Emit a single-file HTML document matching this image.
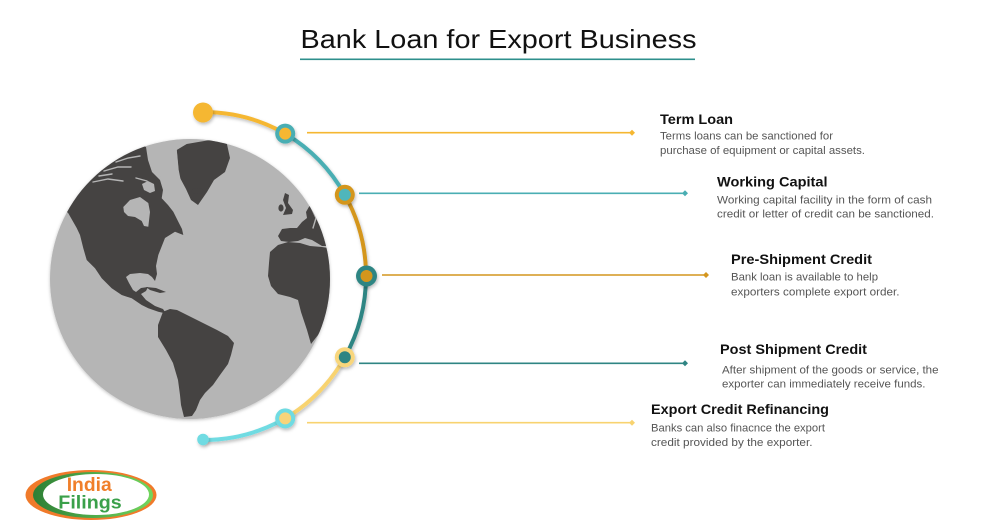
<!DOCTYPE html>
<html>
<head>
<meta charset="utf-8">
<style>
  html,body{margin:0;padding:0;background:#fff;}
  body{width:1000px;height:527px;overflow:hidden;}
  svg{display:block;}
  .h{font-family:"Liberation Sans",Arial,sans-serif;font-weight:bold;font-size:14px;fill:#111;}
  .d{font-family:"Liberation Sans",Arial,sans-serif;font-size:11px;fill:#555;}
</style>
</head>
<body>
<svg width="1000" height="527" viewBox="0 0 1000 527" xmlns="http://www.w3.org/2000/svg">
  <defs>
    <filter id="sh" x="-30%" y="-30%" width="160%" height="160%">
      <feDropShadow dx="1" dy="2" stdDeviation="1.5" flood-color="#000" flood-opacity="0.25"/>
    </filter>
    <filter id="gsh" x="-10%" y="-10%" width="120%" height="120%">
      <feDropShadow dx="0" dy="1" stdDeviation="1.5" flood-color="#000" flood-opacity="0.25"/>
    </filter>
    <clipPath id="globeclip"><circle cx="190" cy="279" r="140"/></clipPath>
    <linearGradient id="lg" x1="0" y1="0" x2="1" y2="0">
      <stop offset="0" stop-color="#2d7f35"/>
      <stop offset="1" stop-color="#72d65e"/>
    </linearGradient>
  </defs>

  <!-- Title -->
  <text x="300.5" y="48" font-family="Liberation Sans, Arial, sans-serif" font-size="26" fill="#111" textLength="396" lengthAdjust="spacingAndGlyphs">Bank Loan for Export Business</text>
  <rect x="300" y="58.5" width="395" height="1.6" fill="#2e8f8c"/>

  <!-- Globe -->
  <circle cx="190" cy="279" r="140" fill="#b5b5b5" filter="url(#gsh)"/>
  <g clip-path="url(#globeclip)" fill="#454342">
    <!-- North America -->
    <polygon points="55,200 68.3,213.3 76.7,228 80,235 83.3,248.3 86.7,260 95,268.3 101.7,278.3 111.7,288.3 121.7,295 131.7,298.3 141.7,305 148.3,308.3 158.3,311.7 166,313.5 163,309 155,306 146,300 141,294 146,291 148,287 141,288 136,292 133,290 129,283 126,277 130,274 140,273 148,274 152,277 155,281 157,274 156,266 158.3,255 165,238 175,231.7 183.3,235 182,229 178.3,221.7 173.3,211.7 168,205 161.7,198.3 163,190 160,180 152,172 148,160 146,147 120,138 60,160"/>
    <!-- Cuba -->
    <polygon points="146,287 156,288 166,292 160,293 150,290"/>
    <!-- Greenland -->
    <polygon points="176.7,150 186.7,144 210,140 226.7,143 230,158 225,172 214,180 207,192 198,205 191,200 186,189 179,176"/>
    <!-- Iceland -->
    <ellipse cx="197.5" cy="191" rx="6" ry="3"/>
    <!-- UK / Ireland -->
    <polygon points="285,193 289,195 288,203 293,210 292,214 283,215 286,208 283,200"/>
    <ellipse cx="281" cy="208" rx="2.6" ry="3.6"/>
    <!-- Europe -->
    <polygon points="297,228 302,222 307,218 306,212 310,205 305,197 309,193 316,197 323,204 331,211 345,215 345,246 322,246 312,240 305,238 298,241 289,242 281,241 278,236 282,229 290,228"/>
    <!-- Africa -->
    <polygon points="269,263 270,252 278,245 288,242 300,243 310,246 322,247 334,249 345,255 345,330 326,320 318,335 311,344 307,330 301,312 298,300 290,297 278,294 271,286 268,276"/>
    <!-- South America -->
    <polygon points="163,311.7 170,309 177,310 185,314 197,320 207,325 217,330 228,336 234,343 231,355 228,364 220,375 213,385 205,393 200,400 196,410 192,416 184,417 181,405 180,395 178,380 173,363 166,350 158,337 158,325"/>
  </g>
  <!-- Hudson bay + arctic channels -->
  <g clip-path="url(#globeclip)">
    <polygon fill="#b5b5b5" points="123.3,207 130,200 140,197 148.3,203 150,212 148.3,226.7 144,226 141.7,221 135,217 128,216 124,212"/>
    <polygon fill="#b5b5b5" points="142,184 148,181 154,184 155,191 150,193 144,190"/>
    <g stroke="#b5b5b5" stroke-width="1.4" fill="none" stroke-linecap="round">
      <polyline points="93,182 108,179 123,181"/>
      <polyline points="104,171 118,167 131,167"/>
      <polyline points="136,178 147,181"/>
      <polyline points="116,162 128,158 140,156"/>
      <polyline points="99,176 112,174"/>
      <polyline points="152,168 160,176"/>
      <polyline points="176,149 178,170 180,180"/>
      <polyline points="311,207 316,218 313,228"/>
    </g>
  </g>

  <!-- Connector lines -->
  <g stroke-width="1.6">
    <line x1="307" y1="132.7" x2="631" y2="132.7" stroke="#f5b731"/>
    <line x1="359" y1="193.3" x2="684" y2="193.3" stroke="#4aaeb3"/>
    <line x1="382" y1="275" x2="705" y2="275" stroke="#d4961e"/>
    <line x1="359" y1="363.3" x2="684" y2="363.3" stroke="#2f8583"/>
    <line x1="307" y1="422.7" x2="631" y2="422.7" stroke="#f8d370"/>
  </g>
  <g>
    <polygon points="629,132.7 632,129.7 635,132.7 632,135.7" fill="#f5b731"/>
    <polygon points="682,193.3 685,190.3 688,193.3 685,196.3" fill="#4aaeb3"/>
    <polygon points="703,275 706,272 709,275 706,278" fill="#d4961e"/>
    <polygon points="682,363.3 685,360.3 688,363.3 685,366.3" fill="#2f8583"/>
    <polygon points="629,422.7 632,419.7 635,422.7 632,425.7" fill="#f8d370"/>
  </g>

  <!-- Arc segments -->
  <g fill="none" stroke-width="4" stroke-linecap="round" filter="url(#sh)">
    <path d="M203,112 A166,166 0 0 1 285.2,133.6" stroke="#f5b731"/>
    <path d="M285.2,133.6 A166,166 0 0 1 344.8,194.8" stroke="#4aaeb3"/>
    <path d="M344.8,194.8 A166,166 0 0 1 366,276" stroke="#d4961e"/>
    <path d="M366,276 A166,166 0 0 1 344.8,357.2" stroke="#2f8583"/>
    <path d="M344.8,357.2 A166,166 0 0 1 285.2,418.4" stroke="#f8d370"/>
    <path d="M285.2,418.4 A166,166 0 0 1 203,440" stroke="#6fdbe2"/>
  </g>

  <!-- Nodes -->
  <g filter="url(#sh)">
    <circle cx="203" cy="112.5" r="10" fill="#f5b731"/>
    <circle cx="285.2" cy="133.6" r="10" fill="#4aaeb3"/>
    <circle cx="285.2" cy="133.6" r="6" fill="#f5b731"/>
    <circle cx="344.8" cy="194.8" r="10" fill="#d4961e"/>
    <circle cx="344.8" cy="194.8" r="6" fill="#4fb6bb"/>
    <circle cx="366.5" cy="276" r="10.5" fill="#2f8583"/>
    <circle cx="366.5" cy="276" r="6" fill="#d4961e"/>
    <circle cx="344.8" cy="357.2" r="10" fill="#f8d67c"/>
    <circle cx="344.8" cy="357.2" r="6" fill="#2f8583"/>
    <circle cx="285.2" cy="418.4" r="10" fill="#6fdbe2"/>
    <circle cx="285.2" cy="418.4" r="6" fill="#f8d47a"/>
    <circle cx="203" cy="439.5" r="5.8" fill="#6fdbe2"/>
  </g>

  <!-- Texts -->
  <text class="h" x="660" y="124" textLength="73" lengthAdjust="spacingAndGlyphs">Term Loan</text>
  <text class="d" x="660" y="139.3" textLength="173" lengthAdjust="spacingAndGlyphs">Terms loans can be sanctioned for</text>
  <text class="d" x="660" y="154" textLength="205" lengthAdjust="spacingAndGlyphs">purchase of equipment or capital assets.</text>

  <text class="h" x="717" y="186.5" textLength="110.5" lengthAdjust="spacingAndGlyphs">Working Capital</text>
  <text class="d" x="717" y="203.3" textLength="215" lengthAdjust="spacingAndGlyphs">Working capital facility in the form of cash</text>
  <text class="d" x="717" y="217.5" textLength="217" lengthAdjust="spacingAndGlyphs">credit or letter of credit can be sanctioned.</text>

  <text class="h" x="731" y="264" textLength="141" lengthAdjust="spacingAndGlyphs">Pre-Shipment Credit</text>
  <text class="d" x="731" y="280.5" textLength="147" lengthAdjust="spacingAndGlyphs">Bank loan is available to help</text>
  <text class="d" x="731" y="295.5" textLength="168.5" lengthAdjust="spacingAndGlyphs">exporters complete export order.</text>

  <text class="h" x="720" y="354" textLength="147" lengthAdjust="spacingAndGlyphs">Post Shipment Credit</text>
  <text class="d" x="722" y="373.3" textLength="216.5" lengthAdjust="spacingAndGlyphs">After shipment of the goods or service, the</text>
  <text class="d" x="722" y="387.5" textLength="203.5" lengthAdjust="spacingAndGlyphs">exporter can immediately receive funds.</text>

  <text class="h" x="651" y="414" textLength="178" lengthAdjust="spacingAndGlyphs">Export Credit Refinancing</text>
  <text class="d" x="651" y="431.7" textLength="174" lengthAdjust="spacingAndGlyphs">Banks can also finacnce the export</text>
  <text class="d" x="651" y="446" textLength="161.5" lengthAdjust="spacingAndGlyphs">credit provided by the exporter.</text>

  <!-- Logo -->
  <ellipse cx="91" cy="495" rx="65.5" ry="25" fill="#f07a2a"/>
  <ellipse cx="93" cy="495" rx="60" ry="23" fill="url(#lg)"/>
  <ellipse cx="96" cy="494.5" rx="53" ry="20.5" fill="#fff"/>
  <text x="66.7" y="491" font-family="Liberation Sans, Arial, sans-serif" font-weight="bold" font-size="19.5" fill="#f07f2a" textLength="45" lengthAdjust="spacingAndGlyphs">India</text>
  <text x="58.3" y="508.5" font-family="Liberation Sans, Arial, sans-serif" font-weight="bold" font-size="18" fill="#3aa04a" textLength="63.4" lengthAdjust="spacingAndGlyphs">Filings</text>
</svg>
</body>
</html>
